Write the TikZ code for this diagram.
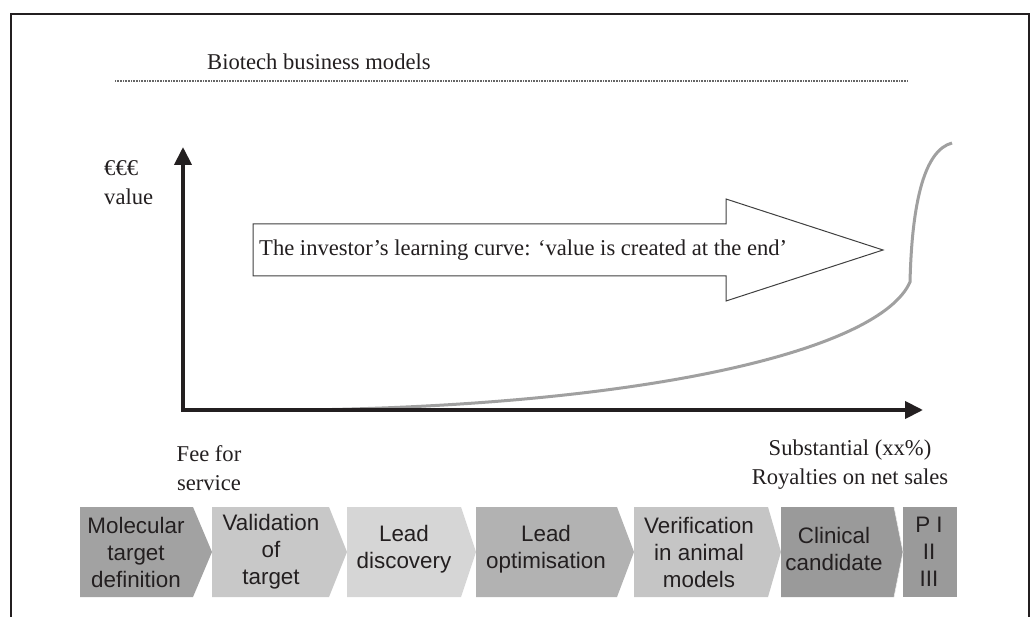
\documentclass[tikz,border=0pt]{standalone}
\usepackage{fontspec}
\setmainfont{Liberation Serif}
\setsansfont{Liberation Sans}
\usetikzlibrary{arrows.meta}
\definecolor{axisblack}{RGB}{35,31,32}
\definecolor{gA}{RGB}{162,162,162}
\definecolor{gB}{RGB}{200,200,200}
\definecolor{gC}{RGB}{214,214,214}
\definecolor{gD}{RGB}{178,178,178}
\definecolor{gE}{RGB}{197,197,197}
\definecolor{gF}{RGB}{154,154,154}
\definecolor{curvegray}{RGB}{160,160,160}
\definecolor{txt}{RGB}{35,31,32}
\begin{document}
\begin{tikzpicture}[x=1pt,y=-1pt,
  frame/.style={line width=2.5pt, color=axisblack},
  axis/.style={line width=4pt, color=axisblack, -{Triangle[length=18pt,width=17pt]}},
  serif/.style={font=\fontsize{22.6}{29}\selectfont, align=center, inner sep=0pt, text=txt},
  boxtext/.style={font=\sffamily\fontsize{22.4}{27}\selectfont, align=center, inner sep=0pt, text=txt},
  bigarrow/.style={draw=black!75, line width=1pt, fill=white},
  curve/.style={line width=3pt, color=curvegray},
  dotline/.style={line width=1.2pt, color=black!60, dash pattern=on 0.8pt off 0.8pt}
]
\useasboundingbox (0,0) rectangle (1032,617);
% frame
\draw[frame] (11,618) -- (11,14) -- (1029,14) -- (1029,618);
% title
\node[serif, anchor=west] (title) at (207,62) {Biotech business models};
\coordinate (dl) at (115,81);
\coordinate (dr) at (908,81);
\draw[dotline] (dl) -- (dr);
% axes
\coordinate (o) at (183,410);
\coordinate (ytip) at (183,147);
\coordinate (xtip) at (923,410);
% curve
\coordinate (cs) at (305,410);
\coordinate (ck) at (910,282);
\coordinate (ce) at (952,143);
\draw[curve] (cs) .. controls (650,405) and (880,350) .. (ck) .. controls (912,200) and (925,150) .. (ce);
\draw[axis] ([yshift=2pt]o) -- (ytip);
\draw[axis] ([xshift=-2pt]o) -- (xtip);
% y label
\node[serif, anchor=west, align=left] (val) at (104,183) {€€€\\value};
% big arrow
\draw[bigarrow] (253,224) -- (726,224) -- (726,199) -- (883,250) -- (726,301) -- (726,276) -- (253,276) -- cycle;
\node[serif, anchor=west] (lc) at (259,250) {The investor’s learning curve: ‘value is created at the end’};
% bottom labels
\node[serif] (fee) at (209,468) {Fee for\\service};
\node[serif] (roy) at (850,465) {Substantial (xx\%)\\Royalties on net sales};
% chevrons
\fill[gA] (80,507) -- (193,507) -- (212,552) -- (193,597) -- (80,597) -- cycle;
\node[boxtext] (c1) at (136,552) {Molecular\\target\\definition};
\fill[gB] (212,507) -- (329,507) -- (347,552) -- (329,597) -- (212,597) -- cycle;
\node[boxtext] (c2) at (271,552) {Validation\\of\\target};
\fill[gC] (347,507) -- (461,507) -- (476,552) -- (461,597) -- (347,597) -- cycle;
\node[boxtext] (c3) at (404,549) {Lead\\discovery};
\fill[gD] (476,507) -- (617,507) -- (634,552) -- (617,597) -- (476,597) -- cycle;
\node[boxtext] (c4) at (546,549) {Lead\\optimisation};
\fill[gE] (634,507) -- (768,507) -- (781,552) -- (768,597) -- (634,597) -- cycle;
\node[boxtext] (c5) at (699,552) {Verification\\in animal\\models};
\fill[gF] (781,507) -- (894,507) -- (903,552) -- (894,597) -- (781,597) -- cycle;
\node[boxtext] (c6) at (834,549) {Clinical\\candidate};
\fill[gF] (903,507) rectangle (957,597);
\draw[white!80!gF, line width=0.6pt] (894,507) -- (903,552) -- (894,597);
\node[boxtext] (c7) at (929,552) {P I\\II\\III};
\end{tikzpicture}
\end{document}
